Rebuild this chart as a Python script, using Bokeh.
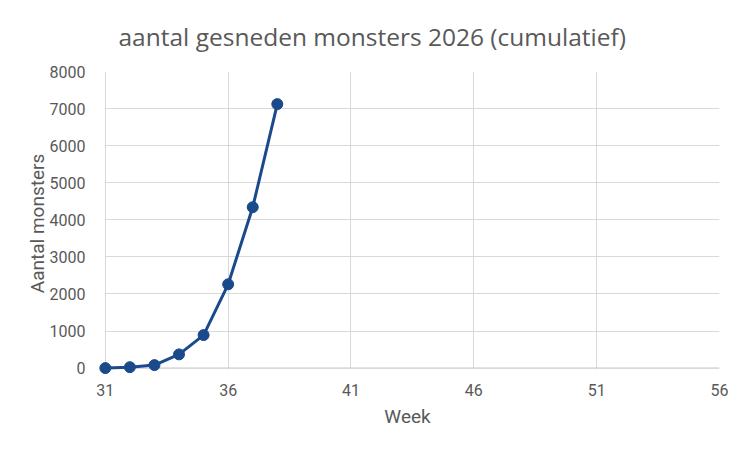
from bokeh.plotting import figure
from bokeh.models import Range1d, FixedTicker, BoxAnnotation, Span
from bokeh.embed import file_html
from bokeh.resources import INLINE

# gegevens: cumulatief aantal gesneden monsters per week
titel = "aantal gesneden monsters 2026 (cumulatief)"
weken = [31, 32, 33, 34, 35, 36, 37, 38]
monsters = [0, 25, 80, 370, 890, 2260, 4340, 7120]

x_ticks = [31, 36, 41, 46, 51, 56]
y_ticks = [0, 1000, 2000, 3000, 4000, 5000, 6000, 7000, 8000]

lijnkleur = "#1a4a8c"
tekstkleur = "#595959"
rasterkleur = "#d9d9d9"

# iets ruimte links/onder zodat de eerste punten niet afgesneden worden
p = figure(width=734, height=438, output_backend="svg", toolbar_location=None,
           title=titel,
           x_range=Range1d(30.6, 56), y_range=Range1d(-200, 8000),
           min_border_left=95, min_border_right=15,
           min_border_top=71, min_border_bottom=63)

p.title.align = "left"
p.title.vertical_align = "top"
p.title.offset = 23
p.title.standoff = 34
p.title.text_font = "Open Sans"
p.title.text_font_size = "24.5px"
p.title.text_font_style = "normal"
p.title.text_color = tekstkleur

p.outline_line_color = None
p.background_fill_color = "white"
p.border_fill_color = "white"

p.xaxis.ticker = FixedTicker(ticks=x_ticks)
p.yaxis.ticker = FixedTicker(ticks=y_ticks)
p.xgrid.ticker = FixedTicker(ticks=x_ticks)
p.ygrid.ticker = FixedTicker(ticks=y_ticks[1:])
p.grid.grid_line_color = rasterkleur
p.grid.grid_line_width = 1

for ax in (p.xaxis, p.yaxis):
    ax.axis_line_color = None
    ax.major_tick_line_color = None
    ax.minor_tick_line_color = None
    ax.major_label_text_font = "Roboto"
    ax.major_label_text_font_size = "16px"
    ax.major_label_text_color = tekstkleur
    ax.axis_label_text_font = "Roboto"
    ax.axis_label_text_font_size = "19px"
    ax.axis_label_text_font_style = "normal"
    ax.axis_label_text_color = tekstkleur

p.xaxis.major_label_standoff = 2
p.yaxis.major_label_standoff = 4
p.xaxis.axis_label = "Week"
p.yaxis.axis_label = "Aantal monsters"
p.xaxis.axis_label_standoff = 6
p.yaxis.axis_label_standoff = -2

# witte stroken over het raster buiten 31..56 / onder 0
p.add_layout(BoxAnnotation(right=30.98, fill_color="white", fill_alpha=1, line_color=None))
p.add_layout(BoxAnnotation(top=-10, fill_color="white", fill_alpha=1, line_color=None))
p.add_layout(Span(location=0, dimension="width", line_color="#bfbfbf", line_width=1))
p.add_layout(BoxAnnotation(right=30.98, bottom=-200, top=100, fill_color="white",
                           fill_alpha=1, line_color=None))

p.line(weken, monsters, line_color=lijnkleur, line_width=3, level="overlay")
p.scatter(weken, monsters, size=11, fill_color=lijnkleur, line_color=lijnkleur,
          level="overlay")

open("out.html", "w").write(file_html(p, INLINE))
